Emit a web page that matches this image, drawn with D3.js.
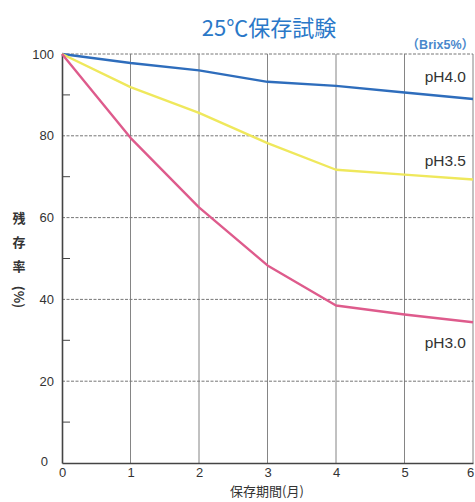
<!DOCTYPE html>
<html><head><meta charset="utf-8">
<script src="https://cdn.jsdelivr.net/npm/d3@7"></script>
<style>body{margin:0;background:#fff}svg{display:block}</style>
</head><body><div id="c"></div>
<script>
const months = [0,1,2,3,4,5,6];
const yTicks = [0,20,40,60,80,100];
const yMinor = [10,30,50,70,90];
const ph40 = [100,97.8,96.0,93.2,92.2,90.6,89.0];
const ph35 = [100,91.9,85.6,78.2,71.7,70.5,69.3];
const ph30 = [100,79.5,62.5,48.3,38.5,36.3,34.4];
const seriesNames = ["pH4.0","pH3.5","pH3.0"];

const W=475,H=502;
const svg=d3.select("#c").append("svg").attr("width",W).attr("height",H);
const x=d3.scaleLinear().domain([0,6]).range([62,473]);
const y=d3.scaleLinear().domain([0,100]).range([463,54]);
const cjk="'Noto Sans CJK JP','Noto Sans',sans-serif";
const lat="'Liberation Sans',Arial,'Noto Sans CJK JP',sans-serif";

// grid
svg.append("g").selectAll("line").data(yTicks.filter(d=>d>0)).join("line")
  .attr("x1",x(0)).attr("x2",x(6)).attr("y1",d=>y(d)).attr("y2",d=>y(d))
  .attr("stroke","#666").attr("stroke-width",0.9).attr("stroke-dasharray","3,1.5");
svg.append("g").selectAll("line").data(months.filter(d=>d>0)).join("line")
  .attr("x1",d=>x(d)).attr("x2",d=>x(d)).attr("y1",y(0)).attr("y2",y(100))
  .attr("stroke","#777").attr("stroke-width",0.9);

// axes
const ax=d3.axisLeft(y).tickValues(yTicks).tickSize(0).tickPadding(8);
const gy=svg.append("g").attr("transform",`translate(${x(0)},0)`).call(ax);
gy.select(".domain").attr("stroke","#444").attr("stroke-width",1.6);
gy.selectAll("text").attr("font-family",lat).attr("font-size",13).attr("fill","#333");
gy.selectAll(".tick").filter(d=>d===0).select("text").attr("dy","0.2em").attr("dx","-6");
svg.append("g").selectAll("line").data(yMinor).join("line")
  .attr("x1",x(0)).attr("x2",x(0)+8).attr("y1",d=>y(d)).attr("y2",d=>y(d))
  .attr("stroke","#444").attr("stroke-width",1);

const bx=d3.axisBottom(x).tickValues(months).tickFormat(d3.format("d")).tickSize(0).tickPadding(5);
const gx=svg.append("g").attr("transform",`translate(0,${y(0)})`).call(bx);
gx.select(".domain").attr("stroke","#444").attr("stroke-width",1.6);
gx.selectAll("text").attr("font-family",lat).attr("font-size",13).attr("fill","#333");
gx.selectAll(".tick").filter(d=>d===6).select("text").attr("dx","-3");

// lines
const line=d3.line().x((d,i)=>x(months[i])).y(d=>y(d));
const cols=["#2e6dbc","#efe85c","#de5b8c"];
[ph40,ph35,ph30].forEach((s,i)=>{
  svg.append("path").datum(s).attr("d",line).attr("fill","none")
    .attr("stroke",cols[i]).attr("stroke-width",2.4).attr("stroke-linejoin","round");
});

// series labels
const lblY=[82,166,348];
seriesNames.forEach((n,i)=>{
  svg.append("text").attr("x",466).attr("y",lblY[i]).attr("text-anchor","end")
    .attr("font-family",lat).attr("font-size",15.5).attr("fill","#333").text(n);
});

// titles
svg.append("text").attr("x",269).attr("y",36).attr("text-anchor","middle")
  .attr("font-family",cjk).attr("font-size",22).attr("fill","#2a78c8").text("25℃保存試験");
svg.append("text").attr("x",474).attr("y",49).attr("text-anchor","end")
  .attr("font-family",lat).attr("font-size",12.5).attr("font-weight","bold").attr("fill","#4a88cc").text("（Brix5%）");
svg.append("text").attr("x",267).attr("y",496).attr("text-anchor","middle")
  .attr("font-family",cjk).attr("font-size",13).attr("fill","#333").text("保存期間(月)");
const yl=["残","存","率"];
yl.forEach((c,i)=>{
  svg.append("text").attr("x",19).attr("y",223+i*24).attr("text-anchor","middle")
    .attr("font-family",cjk).attr("font-size",13).attr("font-weight","bold").attr("fill","#333").text(c);
});
svg.append("text").attr("transform","translate(19,297) rotate(90)").attr("text-anchor","middle")
  .attr("dominant-baseline","central")
  .attr("font-family",cjk).attr("font-size",13).attr("font-weight","bold").attr("fill","#333").text("(%)");
</script></body></html>
